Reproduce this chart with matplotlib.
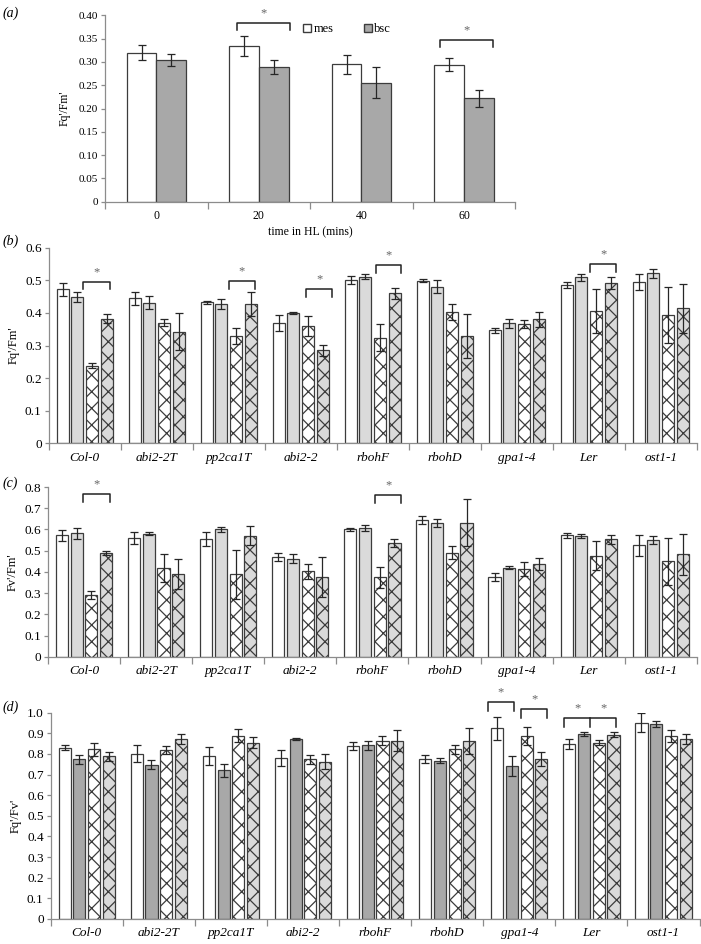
import numpy as np
import matplotlib.pyplot as plt
from matplotlib.patches import Patch

plt.rcParams['font.family'] = ['Liberation Serif', 'DejaVu Serif']
plt.rcParams['hatch.linewidth'] = 0.9

# ---- (a) Fq'/Fm' over time in HL, mes vs bsc
times = ['0', '20', '40', '60']
mes = [0.320, 0.334, 0.295, 0.294]
mes_err = [0.016, 0.022, 0.020, 0.014]
bsc = [0.304, 0.290, 0.255, 0.222]
bsc_err = [0.012, 0.015, 0.033, 0.018]

genotypes = ['Col-0', 'abi2-2T', 'pp2ca1T', 'abi2-2', 'rbohF',
             'rbohD', 'gpa1-4', 'Ler', 'ost1-1']

# ---- (b) Fq'/Fm'  (open, grey, open hatched, grey hatched)
b_open = [0.472, 0.445, 0.433, 0.370, 0.501, 0.499, 0.347, 0.485, 0.495]
b_open_err = [0.020, 0.020, 0.004, 0.025, 0.011, 0.004, 0.008, 0.010, 0.025]
b_grey = [0.450, 0.432, 0.427, 0.400, 0.511, 0.481, 0.368, 0.509, 0.521]
b_grey_err = [0.015, 0.020, 0.015, 0.004, 0.008, 0.020, 0.015, 0.010, 0.015]
b_open_x = [0.238, 0.370, 0.330, 0.360, 0.324, 0.402, 0.365, 0.406, 0.394]
b_open_x_err = [0.008, 0.010, 0.025, 0.030, 0.042, 0.025, 0.012, 0.068, 0.085]
b_grey_x = [0.382, 0.343, 0.428, 0.285, 0.460, 0.329, 0.380, 0.491, 0.415]
b_grey_x_err = [0.014, 0.058, 0.037, 0.018, 0.016, 0.068, 0.022, 0.018, 0.075]

# ---- (c) Fv'/Fm'
c_open = [0.572, 0.560, 0.556, 0.470, 0.600, 0.645, 0.377, 0.572, 0.525]
c_open_err = [0.025, 0.030, 0.033, 0.020, 0.005, 0.018, 0.018, 0.010, 0.050]
c_grey = [0.582, 0.580, 0.600, 0.462, 0.607, 0.630, 0.420, 0.570, 0.550]
c_grey_err = [0.025, 0.008, 0.012, 0.020, 0.012, 0.018, 0.008, 0.010, 0.020]
c_open_x = [0.292, 0.418, 0.388, 0.402, 0.375, 0.490, 0.413, 0.476, 0.450]
c_open_x_err = [0.020, 0.065, 0.117, 0.035, 0.050, 0.030, 0.033, 0.068, 0.110]
c_grey_x = [0.488, 0.390, 0.570, 0.375, 0.536, 0.632, 0.437, 0.553, 0.482]
c_grey_x_err = [0.010, 0.070, 0.045, 0.095, 0.020, 0.110, 0.030, 0.020, 0.098]

# ---- (d) Fq'/Fv'
d_open = [0.830, 0.802, 0.790, 0.780, 0.838, 0.777, 0.925, 0.850, 0.952]
d_open_err = [0.012, 0.040, 0.045, 0.040, 0.020, 0.020, 0.055, 0.025, 0.045]
d_grey = [0.775, 0.748, 0.720, 0.872, 0.843, 0.767, 0.743, 0.896, 0.946]
d_grey_err = [0.022, 0.022, 0.032, 0.004, 0.022, 0.012, 0.048, 0.010, 0.013]
d_open_x = [0.822, 0.820, 0.888, 0.775, 0.865, 0.822, 0.888, 0.855, 0.887]
d_open_x_err = [0.030, 0.018, 0.032, 0.022, 0.022, 0.020, 0.045, 0.012, 0.030]
d_grey_x = [0.788, 0.872, 0.855, 0.763, 0.865, 0.863, 0.776, 0.893, 0.872]
d_grey_x_err = [0.020, 0.025, 0.025, 0.035, 0.050, 0.063, 0.035, 0.012, 0.025]

EDGE = '#3c3c3c'
ERR = '#262626'
AXC = '#8c8c8c'
LIGHT = '#dadada'
MID = '#a8a8a8'

fig = plt.figure(figsize=(7.01, 9.44), dpi=100)


def style_axes(ax, n, fs):
    for s in ['top', 'right']:
        ax.spines[s].set_visible(False)
    for s in ['left', 'bottom']:
        ax.spines[s].set_color(AXC)
        ax.spines[s].set_linewidth(0.9)
    ax.set_xlim(-0.5, n - 0.5)
    ax.set_xticks(np.arange(n))
    ax.set_xticks(np.arange(n + 1) - 0.5, minor=True)
    ax.tick_params(axis='x', which='major', length=0, pad=6, labelsize=fs)
    ax.tick_params(axis='x', which='minor', length=5, color=AXC, width=0.9)
    ax.tick_params(axis='y', length=3, color=AXC, width=0.9, labelsize=fs, pad=2)


def bracket(ax, x0, x1, y, h, mid=None):
    ax.plot([x0, x0, x1, x1], [y - h, y, y, y - h], color='#222222', lw=1.1,
            clip_on=False, zorder=5)
    if mid is None:
        stars = [(x0 + x1) / 2]
    else:
        ax.plot([mid, mid], [y, y - h], color='#222222', lw=1.1, clip_on=False, zorder=5)
        stars = [(x0 + mid) / 2, (mid + x1) / 2]
    for xs in stars:
        ax.annotate('*', xy=(xs, y), xytext=(0, 7), textcoords='offset points',
                    ha='center', va='center', color='#666666', fontsize=9,
                    annotation_clip=False)


def grouped(ax, series, errs, colors, hatches):
    x = np.arange(len(genotypes))
    offs = [-0.306, -0.102, 0.102, 0.306]
    for k in range(4):
        ax.bar(x + offs[k], series[k], width=0.168, color=colors[k], edgecolor=EDGE,
               linewidth=0.9, hatch=hatches[k], zorder=2)
        ax.errorbar(x + offs[k], series[k], yerr=errs[k], fmt='none', ecolor=ERR,
                    elinewidth=0.9, capsize=3, capthick=0.9, zorder=3)
    ax.set_xticklabels(genotypes, style='italic')


# ---------------- panel (a)
axa = fig.add_axes([0.150, 0.7863, 0.585, 0.1975])
xa = np.arange(len(times))
axa.bar(xa - 0.145, mes, width=0.29, color='white', edgecolor=EDGE, linewidth=0.9, zorder=2)
axa.bar(xa + 0.145, bsc, width=0.29, color=MID, edgecolor=EDGE, linewidth=0.9, zorder=2)
axa.errorbar(xa - 0.145, mes, yerr=mes_err, fmt='none', ecolor=ERR, elinewidth=0.9,
             capsize=3, capthick=0.9, zorder=3)
axa.errorbar(xa + 0.145, bsc, yerr=bsc_err, fmt='none', ecolor=ERR, elinewidth=0.9,
             capsize=3, capthick=0.9, zorder=3)
style_axes(axa, len(times), 8.5)
axa.set_xticklabels(times)
axa.set_ylim(0, 0.40)
axa.set_yticks(np.arange(0, 0.401, 0.05))
axa.set_yticklabels(['0'] + ['%.2f' % v for v in np.arange(0.05, 0.401, 0.05)])
axa.tick_params(axis='y', labelsize=8)
axa.set_ylabel("Fq'/Fm'", fontsize=8.5, labelpad=6)
axa.set_xlabel('time in HL (mins)', fontsize=8.5, labelpad=3)
bracket(axa, 1 - 0.21, 1 + 0.30, 0.384, 0.016)
bracket(axa, 3 - 0.23, 3 + 0.28, 0.347, 0.016)
axa.legend(handles=[Patch(facecolor='white', edgecolor=EDGE, label='mes'),
                    Patch(facecolor=MID, edgecolor=EDGE, label='bsc')],
           ncol=2, loc='upper left', bbox_to_anchor=(0.47, 0.985), frameon=False,
           handlelength=0.65, handleheight=0.65, handletextpad=0.2,
           columnspacing=2.4, fontsize=9, borderaxespad=0)

# ---------------- panel (b)
axb = fig.add_axes([0.0693, 0.5302, 0.9247, 0.2074])
grouped(axb, [b_open, b_grey, b_open_x, b_grey_x],
        [b_open_err, b_grey_err, b_open_x_err, b_grey_x_err],
        ['white', LIGHT, 'white', LIGHT], [None, None, 'xx', 'xx'])
style_axes(axb, len(genotypes), 9.5)
axb.set_ylim(0, 0.6)
axb.set_yticks(np.arange(0, 0.61, 0.1))
axb.set_yticklabels(['0'] + ['%.1f' % v for v in np.arange(0.1, 0.61, 0.1)])
axb.set_ylabel("Fq'/Fm'", fontsize=9, labelpad=4)
for g, l, r, y in [(0, -0.02, 0.35, 0.496), (2, 0.0, 0.37, 0.498), (3, 0.07, 0.44, 0.472),
                   (4, 0.04, 0.40, 0.547), (7, 0.02, 0.38, 0.549)]:
    bracket(axb, g + l, g + r, y, 0.024)

# ---------------- panel (c)
axc = fig.add_axes([0.0685, 0.3043, 0.9255, 0.1798])
grouped(axc, [c_open, c_grey, c_open_x, c_grey_x],
        [c_open_err, c_grey_err, c_open_x_err, c_grey_x_err],
        ['white', LIGHT, 'white', LIGHT], [None, None, 'xx', 'xx'])
style_axes(axc, len(genotypes), 9.5)
axc.set_ylim(0, 0.8)
axc.set_yticks(np.arange(0, 0.81, 0.1))
axc.set_yticklabels(['0'] + ['%.1f' % v for v in np.arange(0.1, 0.81, 0.1)])
axc.set_ylabel("Fv'/Fm'", fontsize=9, labelpad=4)
bracket(axc, -0.01, 0.36, 0.766, 0.037)
bracket(axc, 4.04, 4.40, 0.760, 0.037)

# ---------------- panel (d)
axd = fig.add_axes([0.0723, 0.0265, 0.9257, 0.2185])
grouped(axd, [d_open, d_grey, d_open_x, d_grey_x],
        [d_open_err, d_grey_err, d_open_x_err, d_grey_x_err],
        ['white', MID, 'white', LIGHT], [None, None, 'xx', 'xx'])
style_axes(axd, len(genotypes), 9.5)
axd.set_ylim(0, 1.0)
axd.set_yticks(np.arange(0, 1.01, 0.1))
axd.set_yticklabels(['0'] + ['%.1f' % v for v in np.arange(0.1, 1.01, 0.1)])
axd.set_ylabel("Fq'/Fv'", fontsize=9, labelpad=4)
bracket(axd, 6 - 0.44, 6 - 0.08, 1.050, 0.040)
bracket(axd, 6 + 0.02, 6 + 0.39, 1.016, 0.040)
bracket(axd, 7 - 0.375, 7 + 0.34, 0.973, 0.040, mid=7 - 0.015)

# panel letters
for lab, yy in [('(a)', 13), ('(b)', 241), ('(c)', 483), ('(d)', 707)]:
    fig.text(0.004, 1 - yy / 944, lab, ha='left', va='center', style='italic', fontsize=10)

fig.savefig('out.png', dpi=100)
